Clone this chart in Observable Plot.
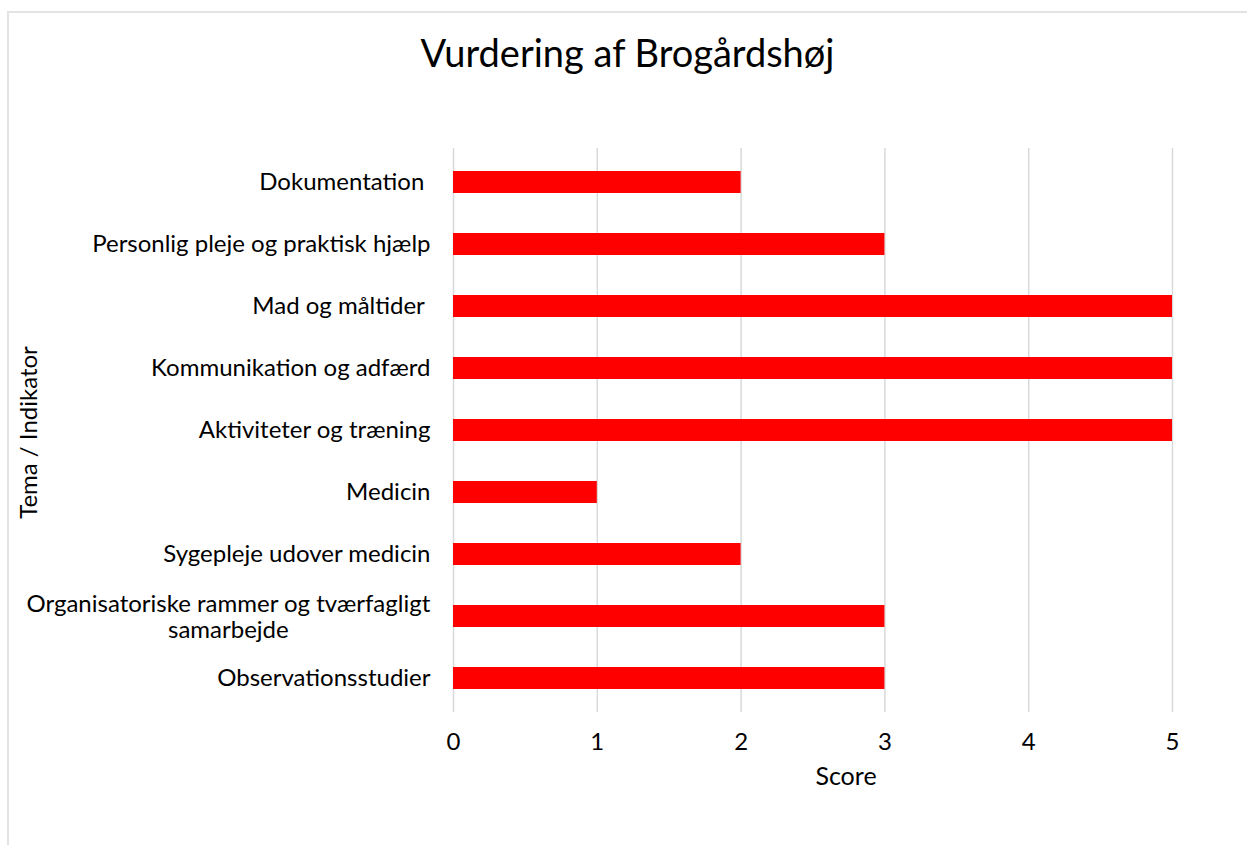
<!DOCTYPE html>
<html><head><meta charset="utf-8">
<script src="https://cdn.jsdelivr.net/npm/d3@7"></script>
<script src="https://cdn.jsdelivr.net/npm/@observablehq/plot@0.6"></script>
<style>
body{margin:0;background:#fff;}
#wrap{position:relative;width:1247px;height:845px;overflow:hidden;background:#fff;}
#frame{position:absolute;left:7px;top:11px;width:1300px;height:900px;border:2px solid #e3e3e3;box-sizing:border-box;}
#title{position:absolute;left:0;width:1255px;top:30px;text-align:center;font-size:38px;color:#000;line-height:1.2;}
#chart{position:absolute;left:0;top:0;}
</style>
</head><body>
<div id="wrap">
  <div id="frame"></div>
  <div id="title"></div>
  <div id="chart"></div>
</div>
<script>
const FONT = "Lato";
const titleText = "Vurdering af Brogårdshøj";
const categories = [
  "Dokumentation ",
  "Personlig pleje og praktisk hjælp",
  "Mad og måltider ",
  "Kommunikation og adfærd",
  "Aktiviteter og træning",
  "Medicin",
  "Sygepleje udover medicin",
  "Organisatoriske rammer og tværfagligt samarbejde",
  "Observationsstudier"
];
const categoryLabels = [
  "Dokumentation ",
  "Personlig pleje og praktisk hjælp",
  "Mad og måltider ",
  "Kommunikation og adfærd",
  "Aktiviteter og træning",
  "Medicin",
  "Sygepleje udover medicin",
  "Organisatoriske rammer og tværfagligt\nsamarbejde",
  "Observationsstudier"
];
const scores = [2, 3, 5, 5, 5, 1, 2, 3, 3];
const xTicks = [0, 1, 2, 3, 4, 5];
const xLabel = "Score";
const yLabel = "Tema / Indikator";

const titleEl = document.getElementById("title");
titleEl.textContent = titleText;
titleEl.style.fontFamily = FONT;

const data = categories.map((c, i) => ({category: c, label: categoryLabels[i], score: scores[i]}));
const single = data.filter(d => !d.label.includes("\n"));
const multi = data.filter(d => d.label.includes("\n"));

const LABEL_SIZE = 24;
const ctx = document.createElement("canvas").getContext("2d");
ctx.font = `${LABEL_SIZE}px ${FONT}`;
const multiDx = multi.length ? -23 - ctx.measureText(multi[0].label.split("\n")[0]).width / 2 : 0;

const chart = Plot.plot({
  width: 1247,
  height: 845,
  marginLeft: 453,
  marginRight: 75,
  marginTop: 148,
  marginBottom: 133,
  style: {fontFamily: FONT, fontSize: "24px", color: "#000", background: "transparent", overflow: "visible", whiteSpace: "pre"},
  x: {domain: [0, 5]},
  y: {domain: categories, paddingInner: 0.64, paddingOuter: 0.32, axis: null},
  marks: [
    Plot.gridX(xTicks, {stroke: "#d9d9d9", strokeOpacity: 1, strokeWidth: 1.5}),
    Plot.barX(data, {x: "score", y: "category", fill: "#ff0000"}),
    Plot.axisX(xTicks, {tickSize: 0, tickPadding: 20, fontSize: 24, label: null, tickFormat: d => String(d)}),
    Plot.text(single, {x: 0, y: "category", text: "label", textAnchor: "end", dx: -23, fontSize: LABEL_SIZE, fill: "#000"}),
    Plot.text(multi, {x: 0, y: "category", text: "label", textAnchor: "middle", dx: multiDx, fontSize: LABEL_SIZE, lineHeight: 1.1, fill: "#000"}),
    Plot.text([yLabel], {frameAnchor: "left", textAnchor: "middle", lineAnchor: "middle", rotate: -90, dx: -424, dy: 2, fontSize: 24, fill: "#000"}),
    Plot.text([xLabel], {frameAnchor: "bottom", textAnchor: "middle", lineAnchor: "middle", dx: 33, dy: 64, fontSize: 25, fill: "#000"})
  ]
});
document.getElementById("chart").append(chart);
</script>
</body></html>
